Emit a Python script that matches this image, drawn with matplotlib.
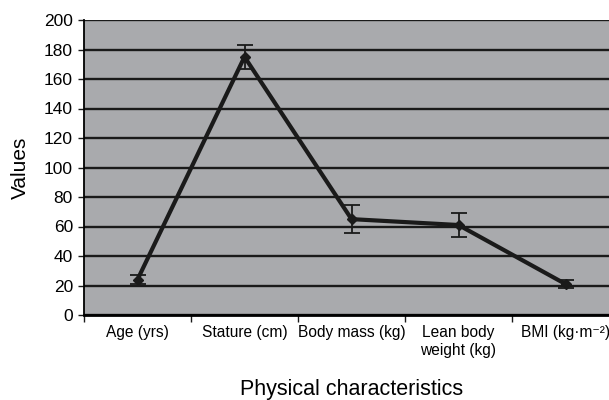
import matplotlib.pyplot as plt
import numpy as np

# data
categories = ['Age (yrs)', 'Stature (cm)', 'Body mass (kg)',
              'Lean body\nweight (kg)', 'BMI (kg·m⁻²)']
means = [24, 175, 65, 61, 21]
errors = [3, 8, 9.5, 8, 2.7]
y_ticks = [0, 20, 40, 60, 80, 100, 120, 140, 160, 180, 200]

plt.rcParams['font.family'] = ['Liberation Sans', 'DejaVu Sans']

fig = plt.figure(figsize=(6.09, 4.0), dpi=100)
ax = fig.add_axes([84 / 609, 85 / 400, 535 / 609, 295 / 400])
ax.set_facecolor('#a9aaad')

x = np.arange(len(categories))
ax.errorbar(x, means, yerr=errors, color='#1a1a1a', lw=3, marker='D', ms=5.5,
            elinewidth=1.3, capsize=6, capthick=1.3, zorder=3)

ax.set_xlim(-0.5, len(categories) - 0.5)
ax.set_ylim(0, 200)
ax.set_yticks(y_ticks)
ax.yaxis.grid(True, color='#1a1a1a', lw=1.7)
ax.set_axisbelow(True)

ax.set_xticks(x)
ax.set_xticklabels(categories, family=['Liberation Sans Narrow', 'Liberation Sans', 'DejaVu Sans'],
                   fontsize=11.2, stretch='condensed', va='top', linespacing=1.3)
ax.set_xticks(np.arange(-0.5, len(categories)), minor=True)
ax.tick_params(axis='x', which='major', length=0, pad=7)
ax.tick_params(axis='x', which='minor', length=5, width=1, color='#1a1a1a')
ax.tick_params(axis='y', length=4, width=1, labelsize=12.5, pad=4, color='#1a1a1a')

for side in ['top', 'right']:
    ax.spines[side].set_visible(False)
ax.spines['left'].set_linewidth(1.3)
ax.spines['bottom'].set_linewidth(2)

ax.set_ylabel('Values', fontsize=15, labelpad=10)
ax.set_xlabel('Physical characteristics', fontsize=15.5, labelpad=15)

fig.savefig('out.png', dpi=100)
